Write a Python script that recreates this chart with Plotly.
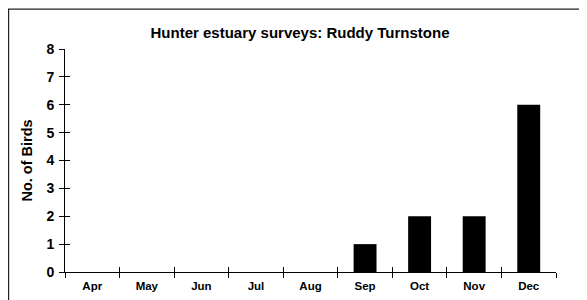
import plotly.graph_objects as go

months = ["Apr", "May", "Jun", "Jul", "Aug", "Sep", "Oct", "Nov", "Dec"]
birds = [0, 0, 0, 0, 0, 1, 2, 2, 6]
y_ticks = [0, 1, 2, 3, 4, 5, 6, 7, 8]

W, H = 587, 300
L, R, T, B = 57, 39, 41, 36
FONT = "Liberation Sans, Arial, sans-serif"
PW, PH = W - L - R, H - T - B

fig = go.Figure()
fig.add_trace(go.Bar(x=months, y=birds, width=0.42, marker=dict(color="black", line=dict(width=0)),
                     hoverinfo="x+y", showlegend=False))
# invisible trace on mirror axes so inside ticks are drawn
fig.add_trace(go.Bar(x=months, y=birds, xaxis="x2", yaxis="y2", opacity=0, showlegend=False,
                     hoverinfo="skip"))

axis_common = dict(showgrid=False, zeroline=False, linecolor="black", linewidth=1,
                   tickcolor="black", tickwidth=1, ticklen=5, automargin=False)

fig.update_layout(
    width=W, height=H,
    margin=dict(l=L, r=R, t=T, b=B, autoexpand=False),
    paper_bgcolor="white", plot_bgcolor="white",
    font=dict(family=FONT, color="black"),
    title=dict(text="<b>Hunter estuary surveys: Ruddy Turnstone</b>", font=dict(size=15),
               x=292 / W, xref="container", xanchor="center",
               y=1 - 25 / H, yref="container", yanchor="middle"),
    xaxis=dict(type="category", categoryorder="array", categoryarray=months,
               range=[-0.5, 8.5], tickson="boundaries", ticks="outside", showline=True,
               tickmode="array", tickvals=months, ticktext=["<b>%s</b>" % m for m in months],
               tickfont=dict(size=11.5, family=FONT, weight="bold"), ticklabelstandoff=3,
               **axis_common),
    yaxis=dict(range=[0, 8], tickmode="array", tickvals=y_ticks,
               ticktext=["<b>%d</b>" % v for v in y_ticks], ticks="outside", showline=True,
               tickfont=dict(size=14, family=FONT, weight="bold"), ticklabelstandoff=2,
               title=dict(text="<b>No. of Birds</b>", font=dict(size=14.5), standoff=10),
               **axis_common),
    xaxis2=dict(type="category", categoryorder="array", categoryarray=months, overlaying="x",
                anchor="y", side="bottom", range=[-0.5, 8.5], tickson="boundaries", ticks="inside",
                showticklabels=False, showline=False, **axis_common),
    yaxis2=dict(range=[0, 8], overlaying="y", anchor="x", side="left", tickmode="array",
                tickvals=y_ticks, ticks="inside", showticklabels=False, showline=False,
                **axis_common),
)

# outer frame around the whole figure
fig.add_shape(type="rect", xref="paper", yref="paper",
              x0=(0.6 - L) / PW, x1=(W - 0.6 - L) / PW,
              y0=-(B - 0.6) / PH, y1=1 + (T - 1.2) / PH,
              line=dict(color="#222222", width=1.2), layer="below")

fig.write_html("out.html")
